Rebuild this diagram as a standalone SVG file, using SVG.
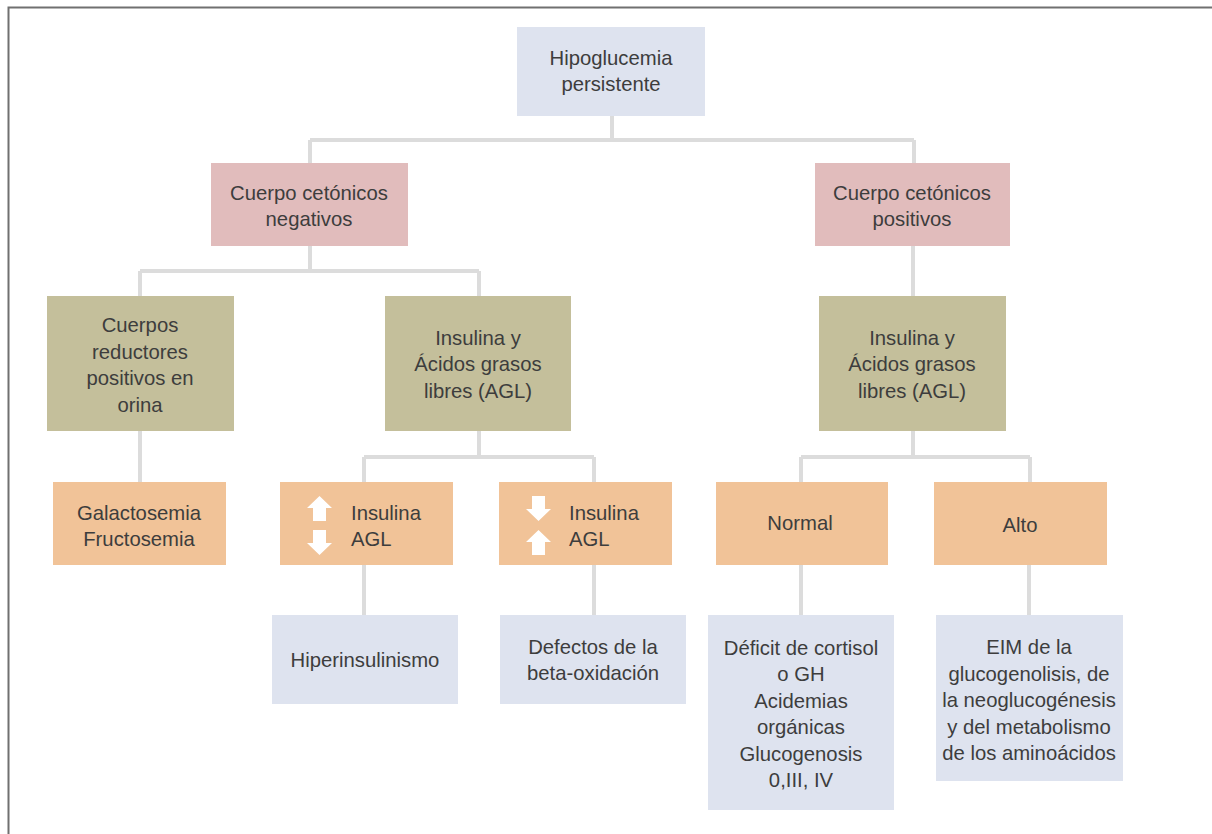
<svg xmlns="http://www.w3.org/2000/svg" width="1212" height="834" viewBox="0 0 1212 834">
<style>
.t{font-family:"Liberation Sans",Arial,Helvetica,sans-serif;font-size:20.3px;fill:#3d3d3d;text-anchor:middle}
.l{text-anchor:start}
.blue{fill:#dee3ef}.pink{fill:#e1bcbc}.olive{fill:#c4bf9b}.orange{fill:#f1c398}
.c{fill:none;stroke:#dcdcdc;stroke-width:4}
.ar{fill:#ffffff}
</style>
<rect width="1212" height="834" fill="#ffffff"/>
<path d="M8.5 834 V7.5 H1212" fill="none" stroke="#707070" stroke-width="2"/>
<g id="connectors">
<path class="c" d="M612 116 V140 M310 140 H914 M310 140 V163 M914 140 V163"/>
<path class="c" d="M310 246 V271 M140 271 H479 M140 271 V296 M479 271 V296"/>
<path class="c" d="M913 246 V296"/>
<path class="c" d="M140 431 V482"/>
<path class="c" d="M479 431 V457 M364 457 H594 M364 457 V482 M594 457 V482"/>
<path class="c" d="M913 431 V457 M801 457 H1030 M801 457 V482 M1030 457 V482"/>
<path class="c" d="M364 565 V615 M594 565 V615 M801 565 V615 M1029 565 V615"/>
</g>
<g id="n1"><rect class="blue" x="517" y="27" width="188" height="89"/>
<text class="t" x="611" y="65">Hipoglucemia</text><text class="t" x="611" y="91">persistente</text></g>
<g id="n2"><rect class="pink" x="211" y="163" width="197" height="83"/>
<text class="t" x="309" y="200">Cuerpo cetónicos</text><text class="t" x="309" y="226">negativos</text></g>
<g id="n3"><rect class="pink" x="815" y="163" width="195" height="83"/>
<text class="t" x="912" y="200">Cuerpo cetónicos</text><text class="t" x="912" y="226">positivos</text></g>
<g id="n4"><rect class="olive" x="47" y="296" width="187" height="135"/>
<text class="t" x="140" y="332">Cuerpos</text><text class="t" x="140" y="359">reductores</text><text class="t" x="140" y="385">positivos en</text><text class="t" x="140" y="412">orina</text></g>
<g id="n5"><rect class="olive" x="385" y="296" width="186" height="135"/>
<text class="t" x="478" y="345">Insulina y</text><text class="t" x="478" y="371">Ácidos grasos</text><text class="t" x="478" y="398">libres (AGL)</text></g>
<g id="n6"><rect class="olive" x="819" y="296" width="187" height="135"/>
<text class="t" x="912" y="345">Insulina y</text><text class="t" x="912" y="371">Ácidos grasos</text><text class="t" x="912" y="398">libres (AGL)</text></g>
<g id="n7"><rect class="orange" x="53" y="482" width="173" height="83"/>
<text class="t" x="139" y="520">Galactosemia</text><text class="t" x="139" y="546">Fructosemia</text></g>
<g id="n8"><rect class="orange" x="280" y="482" width="173" height="83"/>
<path class="ar" d="M319.5 496 L332 508 H326 V521 H313 V508 H307 Z"/>
<path class="ar" d="M319.5 555 L332 543 H326 V530 H313 V543 H307 Z"/>
<text class="t l" x="351" y="520">Insulina</text><text class="t l" x="351" y="546">AGL</text></g>
<g id="n9"><rect class="orange" x="499" y="482" width="173" height="83"/>
<path class="ar" d="M538.5 521 L551 509 H545 V496 H532 V509 H526 Z"/>
<path class="ar" d="M538.5 530 L551 542 H545 V555 H532 V542 H526 Z"/>
<text class="t l" x="569" y="520">Insulina</text><text class="t l" x="569" y="546">AGL</text></g>
<g id="n10"><rect class="orange" x="716" y="482" width="172" height="83"/>
<text class="t" x="800" y="530">Normal</text></g>
<g id="n11"><rect class="orange" x="934" y="482" width="173" height="83"/>
<text class="t" x="1020" y="532">Alto</text></g>
<g id="n12"><rect class="blue" x="272" y="615" width="186" height="89"/>
<text class="t" x="365" y="667">Hiperinsulinismo</text></g>
<g id="n13"><rect class="blue" x="500" y="615" width="186" height="89"/>
<text class="t" x="593" y="654">Defectos de la</text><text class="t" x="593" y="680">beta-oxidación</text></g>
<g id="n14"><rect class="blue" x="708" y="615" width="186" height="195"/>
<text class="t" x="801" y="655">Déficit de cortisol</text><text class="t" x="801" y="681">o GH</text><text class="t" x="801" y="708">Acidemias</text><text class="t" x="801" y="734">orgánicas</text><text class="t" x="801" y="761">Glucogenosis</text><text class="t" x="801" y="787">0,III, IV</text></g>
<g id="n15"><rect class="blue" x="936" y="615" width="187" height="166"/>
<text class="t" x="1029" y="654">EIM de la</text><text class="t" x="1029" y="681">glucogenolisis, de</text><text class="t" x="1029" y="707">la neoglucogénesis</text><text class="t" x="1029" y="734">y del metabolismo</text><text class="t" x="1029" y="760">de los aminoácidos</text></g>
</svg>
